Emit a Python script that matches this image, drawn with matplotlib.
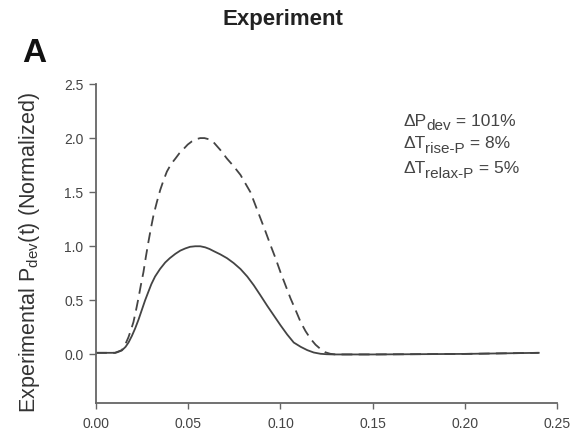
import numpy as np
import matplotlib
matplotlib.use("Agg")
import matplotlib.pyplot as plt

plt.rcParams['font.family'] = ['Liberation Sans', 'DejaVu Sans']
plt.rcParams['mathtext.fontset'] = 'custom'
plt.rcParams['mathtext.rm'] = 'Liberation Sans'
plt.rcParams['mathtext.it'] = 'Liberation Sans'
plt.rcParams['mathtext.default'] = 'regular'

# Normalized developed pressure, baseline (solid) and after intervention (dashed)
t_base = [0.0, 0.0103, 0.0115, 0.014, 0.016, 0.0176, 0.0194, 0.0212, 0.023,
          0.0248, 0.0266, 0.0284, 0.030, 0.032, 0.0347, 0.0375, 0.040, 0.043,
          0.0457, 0.0484, 0.051, 0.0538, 0.0565, 0.0592, 0.0615, 0.0638, 0.0674,
          0.071, 0.0746, 0.0783, 0.082, 0.0855, 0.089, 0.0928, 0.0964, 0.100,
          0.1036, 0.1072, 0.111, 0.1145, 0.118, 0.1217, 0.125, 0.129, 0.15,
          0.20, 0.24]
p_base = [0.015, 0.015, 0.02, 0.037, 0.07, 0.11, 0.17, 0.24, 0.32,
          0.41, 0.50, 0.58, 0.65, 0.72, 0.79, 0.85, 0.89, 0.93,
          0.96, 0.98, 0.995, 1.00, 1.00, 0.99, 0.975, 0.955, 0.925,
          0.89, 0.845, 0.79, 0.72, 0.64, 0.55, 0.45, 0.36, 0.27,
          0.185, 0.11, 0.07, 0.04, 0.018, 0.006, 0.002, 0.0, 0.0,
          0.005, 0.015]

t_test = [0.0, 0.0103, 0.014, 0.0158, 0.0176, 0.019, 0.0203, 0.0217, 0.023,
          0.0243, 0.0257, 0.027, 0.0284, 0.0298, 0.0312, 0.033, 0.0348,
          0.0366, 0.0384, 0.0407, 0.043, 0.0452, 0.0475, 0.0497, 0.052,
          0.0543, 0.0565, 0.0588, 0.061, 0.0638, 0.0674, 0.071, 0.0746,
          0.0783, 0.081, 0.0837, 0.0864, 0.0891, 0.0918, 0.0946, 0.0973,
          0.100, 0.1027, 0.1054, 0.1082, 0.1109, 0.1136, 0.1163, 0.119,
          0.1217, 0.1243, 0.127, 0.13, 0.15, 0.20, 0.24]
p_test = [0.015, 0.015, 0.04, 0.09, 0.16, 0.23, 0.30, 0.41, 0.52,
          0.64, 0.76, 0.90, 1.04, 1.17, 1.29, 1.41, 1.52,
          1.61, 1.69, 1.76, 1.81, 1.86, 1.90, 1.94, 1.97,
          1.99, 2.00, 2.00, 1.99, 1.96, 1.89, 1.81, 1.74,
          1.66, 1.58, 1.50, 1.38, 1.26, 1.14, 1.01, 0.89,
          0.76, 0.64, 0.52, 0.41, 0.30, 0.215, 0.145, 0.09,
          0.05, 0.02, 0.006, 0.0, 0.0, 0.005, 0.015]

xticks = [0.00, 0.05, 0.10, 0.15, 0.20, 0.25]
yticks = [0.0, 0.5, 1.0, 1.5, 2.0, 2.5]

# (symbol, subscript, value) for the percent changes
changes = [('\u0394P', 'dev', ' = 101%'),
           ('\u0394T', 'rise-P', ' = 8%'),
           ('\u0394T', 'relax-P', ' = 5%')]

W, H = 575, 433
fig = plt.figure(figsize=(W / 100, H / 100), dpi=100)
ax = fig.add_axes([0.167, 0.069, 0.802, 0.737])

lc = '#444444'
ax.plot(t_base, p_base, color=lc, lw=1.3)
ax.plot(t_test, p_test, color=lc, lw=1.3, dashes=(6, 3.5))

ax.set_xlim(0, 0.25)
ax.set_ylim(-0.45, 2.5)
ax.set_xticks(xticks)
ax.set_xticklabels(['%.2f' % v for v in xticks])
ax.set_yticks(yticks)
ax.set_yticklabels(['%.1f' % v for v in yticks])

for s in ['top', 'right']:
    ax.spines[s].set_visible(False)
for s in ['left', 'bottom']:
    ax.spines[s].set_color('#666666')
    ax.spines[s].set_linewidth(1.3)

ax.tick_params(axis='y', direction='out', length=5, width=1.0, color='#666666',
               labelsize=10, labelcolor='#444444', pad=4)
ax.tick_params(axis='x', direction='out', length=4, width=1.0, color='#666666',
               labelsize=10, labelcolor='#444444', pad=6)

ax.set_ylabel(r'Experimental P$_{dev}$(t) (Normalized)', fontsize=15.5, color='#333333')
ax.yaxis.set_label_coords(-0.117, 0.473)

# annotation block: write each piece after the previous one, in pixels
renderer = fig.canvas.get_renderer()
x0 = 403
baselines = [126, 148.5, 173]
for (sym, sub, val), yb in zip(changes, baselines):
    x = x0
    for txt, fs, dy in [(sym, 12.5, 0), (sub, 11, 4.5), (val, 12.5, 0)]:
        t = fig.text(x / W, 1 - (yb + dy) / H, txt, fontsize=fs, color='#444444',
                     ha='left', va='baseline')
        x += t.get_window_extent(renderer).width

fig.text(0.492, 0.955, 'Experiment', fontsize=16, fontweight='bold',
         ha='center', va='center', color='#222222')
fig.text(0.038, 0.857, 'A', fontsize=24, fontweight='bold', ha='left',
         va='baseline', color='#111111')

fig.savefig('out.png', dpi=100)
